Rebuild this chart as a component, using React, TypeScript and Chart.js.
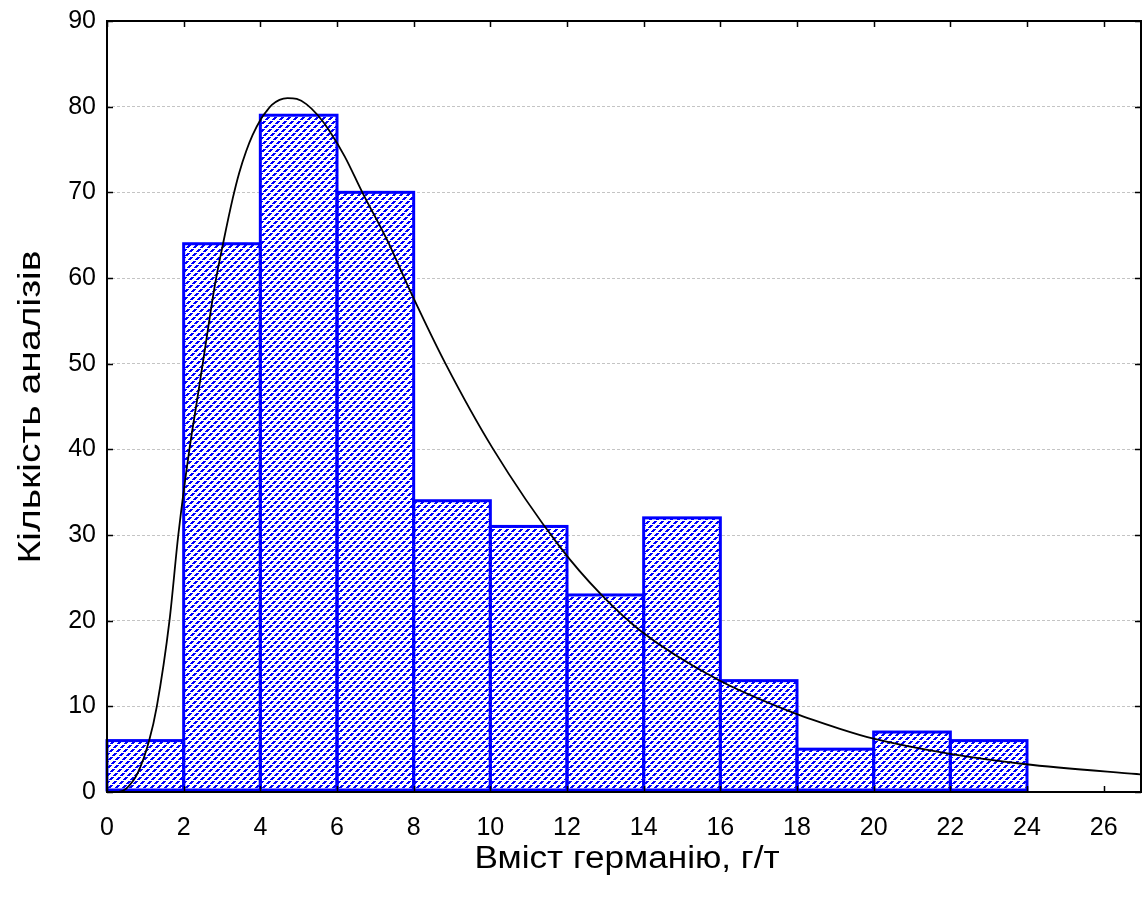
import React, { useEffect, useRef } from "react";
import { Chart, registerables } from "chart.js";

Chart.register(...registerables);

// Histogram bins (left edges, width 2) and counts
const binStarts = [0, 2, 4, 6, 8, 10, 12, 14, 16, 18, 20, 22];
const binWidth = 2;
const counts = [6, 64, 79, 70, 34, 31, 23, 32, 13, 5, 7, 6];

// Fitted curve
const curveX = [0, 0.3, 0.5, 0.8, 1.1, 1.3, 1.63, 1.86, 2.15, 2.36, 2.6, 2.8, 3.05, 3.28, 3.45, 3.63, 3.8, 4.02, 4.15, 4.3, 4.5, 4.71, 4.95, 5.2, 5.5, 5.8, 6.2, 6.66, 7.3, 7.96, 8.83, 10.05, 11.8, 12.9, 13.95, 15.94, 17.93, 19.1, 19.97, 21.92, 23.91, 26.86, 27];
const curveY = [0, 0, 0.4, 2.2, 6, 10, 20, 30, 40, 46, 53, 58.8, 64.5, 69.3, 72.3, 74.8, 76.7, 78.6, 79.4, 80.2, 80.8, 81, 80.9, 80.3, 79, 77.2, 74.2, 70, 64.5, 58, 50, 40.2, 28.7, 23, 18.7, 13.1, 9.2, 7.4, 6.25, 4.5, 3.27, 2.1, 2.05];

const xTicks = [0, 2, 4, 6, 8, 10, 12, 14, 16, 18, 20, 22, 24, 26];
const yTicks = [0, 10, 20, 30, 40, 50, 60, 70, 80, 90];

const xTitle = "Вміст германію, г/т";
const yTitle = "Кількість аналізів";

const FONT = "'Liberation Sans', Arial, sans-serif";

function makeHatch(): CanvasPattern | string {
  const n = 28;
  const c = document.createElement("canvas");
  c.width = n;
  c.height = n;
  const g = c.getContext("2d");
  if (!g) return "#ffffff";
  g.fillStyle = "#ffffff";
  g.fillRect(0, 0, n, n);
  g.fillStyle = "#0000ff";
  for (let x0 = 0; x0 < n; x0 += 7) {
    for (let d = 0; d < n; d++) {
      if (d % 4 === 3) continue;
      const x = (x0 + d) % n;
      const y = n - 1 - d;
      g.fillRect(x, y, 3, 1);
      g.fillRect(x - n, y, 3, 1);
    }
  }
  const p = g.createPattern(c, "repeat");
  return p || "#ffffff";
}

const framePlugin = {
  id: "frame",
  afterDatasetDraw(chart: any, args: any) {
    if (args.index !== 1) return;
    const { ctx } = chart;
    const meta = chart.getDatasetMeta(1);
    ctx.save();
    ctx.strokeStyle = "#0000ff";
    ctx.lineWidth = 3;
    meta.data.forEach((el: any) => {
      const l = el.x - el.width / 2;
      const r = el.x + el.width / 2;
      ctx.strokeRect(l, el.y, r - l, el.base - el.y - 1.5);
    });
    ctx.restore();
  },
  afterDraw(chart: any) {
    const { ctx, chartArea } = chart;
    const { left, right, top, bottom } = chartArea;
    const xs = chart.scales.x;
    const ys = chart.scales.y;
    ctx.save();
    ctx.strokeStyle = "#000";
    ctx.lineWidth = 2;
    ctx.beginPath();
    ctx.moveTo(left, top);
    ctx.lineTo(right - 1, top);
    ctx.lineTo(right - 1, bottom);
    ctx.lineTo(left, bottom);
    ctx.closePath();
    ctx.stroke();
    ctx.lineWidth = 1.5;
    ctx.beginPath();
    xTicks.forEach((v) => {
      const px = Math.round(xs.getPixelForValue(v)) + 0.5;
      ctx.moveTo(px, bottom);
      ctx.lineTo(px, bottom - 6);
      ctx.moveTo(px, top);
      ctx.lineTo(px, top + 6);
    });
    yTicks.forEach((v) => {
      const py = Math.round(ys.getPixelForValue(v)) + 0.5;
      ctx.moveTo(left, py);
      ctx.lineTo(left + 6, py);
      ctx.moveTo(right - 1, py);
      ctx.lineTo(right - 7, py);
    });
    ctx.stroke();

    ctx.fillStyle = "#000";
    ctx.font = `31px ${FONT}`;
    ctx.textAlign = "center";
    ctx.textBaseline = "middle";
    const wx = ctx.measureText(xTitle).width;
    ctx.save();
    ctx.translate(627, 859);
    ctx.scale(305 / wx, 1);
    ctx.fillText(xTitle, 0, 0);
    ctx.restore();
    const wy = ctx.measureText(yTitle).width;
    ctx.translate(31, 407);
    ctx.rotate(-Math.PI / 2);
    ctx.scale(313 / wy, 1);
    ctx.fillText(yTitle, 0, 0);
    ctx.restore();
  },
};

export default function App() {
  const ref = useRef<HTMLCanvasElement | null>(null);
  useEffect(() => {
    document.body.style.margin = "0";
    if (!ref.current) return;
    const hatch = makeHatch();
    const barData = binStarts.map((s, i) => ({ x: s + binWidth / 2, y: counts[i] }));
    const lineData = curveX.map((x, i) => ({ x, y: curveY[i] }));
    const chart = new Chart(ref.current, {
      type: "bar",
      data: {
        datasets: [
          {
            type: "line",
            data: lineData,
            borderColor: "#000",
            borderWidth: 1.8,
            pointRadius: 0,
            cubicInterpolationMode: "monotone",
            fill: false,
            order: 0,
          } as any,
          {
            type: "bar",
            data: barData,
            backgroundColor: hatch as any,
            borderWidth: 0,
            barPercentage: 1,
            categoryPercentage: 1,
            grouped: false,
            order: 1,
          } as any,
        ],
      },
      options: {
        animation: false,
        responsive: false,
        maintainAspectRatio: false,
        layout: { padding: { top: 21, right: 0, left: 0, bottom: 0 } },
        plugins: { legend: { display: false }, tooltip: { enabled: false } },
        scales: {
          x: {
            type: "linear",
            offset: false,
            min: 0,
            max: 27,
            afterBuildTicks: (s: any) => {
              s.ticks = xTicks.map((v) => ({ value: v }));
            },
            afterFit: (s: any) => {
              s.height = 110;
              s.paddingLeft = 0;
              s.paddingRight = 0;
            },
            grid: { display: false, drawTicks: false, offset: false },
            border: { display: false },
            ticks: {
              padding: 21,
              color: "#000",
              font: { family: FONT, size: 25 },
              autoSkip: false,
              maxRotation: 0,
            },
          },
          y: {
            type: "linear",
            min: 0,
            max: 90,
            afterBuildTicks: (s: any) => {
              s.ticks = yTicks.map((v) => ({ value: v }));
            },
            afterFit: (s: any) => {
              s.width = 107;
              s.paddingTop = 0;
              s.paddingBottom = 0;
            },
            grid: {
              drawTicks: false,
              color: (c: any) =>
                c.tick && (c.tick.value === 0 || c.tick.value === 90) ? "rgba(0,0,0,0)" : "#c4c4c4",
              lineWidth: 1,
            },
            border: { display: false, dash: [3, 2] },
            ticks: {
              padding: 11,
              color: "#000",
              font: { family: FONT, size: 25 },
            },
          },
        },
      },
      plugins: [framePlugin],
    } as any);
    return () => chart.destroy();
  }, []);
  return (
    <div style={{ width: 1142, height: 902 }}>
      <canvas ref={ref} width={1142} height={902} />
    </div>
  );
}
